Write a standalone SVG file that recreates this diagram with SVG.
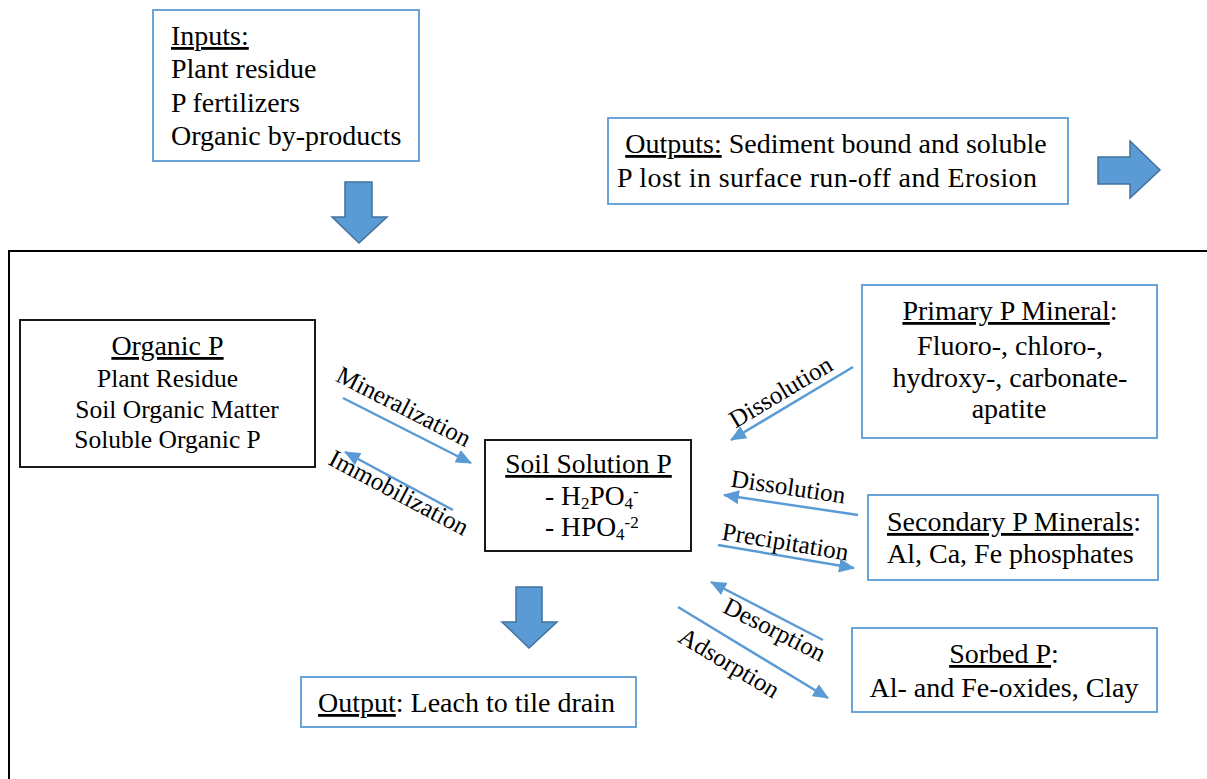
<svg xmlns="http://www.w3.org/2000/svg" width="1207" height="779" viewBox="0 0 1207 779">
<style>
text{font-family:"Liberation Serif","Times New Roman",serif;fill:#000}
.t28{font-size:28px}
.t27{font-size:27.5px}
.t25{font-size:25.5px}
.lab{font-size:25px}
.bb{fill:#fff;stroke:#5B9BD5;stroke-width:1.8}
.kb{fill:#fff;stroke:#000;stroke-width:1.8}
.big{fill:#5B9BD5;stroke:#41719C;stroke-width:1.5}
.con{stroke:#5B9BD5;stroke-width:2.5;fill:none;marker-end:url(#ah)}
.u{text-decoration:underline}
.mid{text-anchor:middle}
</style>
<defs>
<marker id="ah" markerUnits="userSpaceOnUse" viewBox="0 0 16 14" refX="15" refY="7" markerWidth="16" markerHeight="14" orient="auto">
<path d="M0,0 L16,7 L0,14 Z" fill="#5B9BD5"/>
</marker>
</defs>
<rect width="1207" height="779" fill="#fff"/>
<g id="frame">
<path d="M9,779 L9,251 L1207,251" fill="none" stroke="#000" stroke-width="2"/>
</g>
<g id="inputs">
<rect class="bb" x="153" y="10" width="266" height="151"/>
<text class="t28" x="171" y="45"><tspan class="u">Inputs:</tspan></text>
<text class="t28" x="171" y="78">Plant residue</text>
<text class="t28" x="171" y="112">P fertilizers</text>
<text class="t28" x="171" y="145">Organic by-products</text>
</g>
<g id="inputs-arrow">
<polygon class="big" points="345,182 372,182 372,217 387,217 359,243 332,217 345,217"/>
</g>
<g id="outputs">
<rect class="bb" x="608" y="118" width="460" height="86"/>
<text class="t28 mid" x="836" y="153"><tspan class="u">Outputs:</tspan> Sediment bound and soluble</text>
<text class="t28" x="617" y="187" textLength="420" lengthAdjust="spacing">P lost in surface run-off and Erosion</text>
</g>
<g id="outputs-arrow">
<polygon class="big" points="1098,157 1130,157 1130,141 1160,170 1130,198 1130,184 1098,184"/>
</g>
<g id="organic-p">
<rect class="kb" x="20" y="320" width="295" height="147"/>
<text class="mid" font-size="28" x="167.5" y="355"><tspan class="u">Organic P</tspan></text>
<text class="t25 mid" x="167.5" y="387">Plant Residue</text>
<text class="t25 mid" x="177" y="418">Soil Organic Matter</text>
<text class="t25 mid" x="167.5" y="448">Soluble Organic P</text>
</g>
<g id="soil-solution-p">
<rect class="kb" x="485" y="440" width="206" height="111"/>
<text class="t27 mid" x="588.5" y="473"><tspan class="u">Soil Solution P</tspan></text>
<text class="t27" x="545" y="505">- H<tspan font-size="17" dy="4">2</tspan><tspan dy="-4">PO</tspan><tspan font-size="17" dy="4">4</tspan><tspan font-size="17" dy="-12">-</tspan></text>
<text class="t27" x="545" y="536">- HPO<tspan font-size="17" dy="4">4</tspan><tspan font-size="17" dy="-12">-2</tspan></text>
</g>
<g id="primary-p-mineral">
<rect class="bb" x="862" y="285" width="295" height="153"/>
<text class="t28 mid" x="1010" y="320"><tspan class="u">Primary P Mineral</tspan>:</text>
<text class="t28 mid" x="1010" y="355">Fluoro-, chloro-,</text>
<text class="t28 mid" x="1010" y="387">hydroxy-, carbonate-</text>
<text class="t28 mid" x="1009" y="418">apatite</text>
</g>
<g id="secondary-p-minerals">
<rect class="bb" x="868" y="495" width="290" height="85"/>
<text class="t28" x="887" y="531"><tspan class="u">Secondary P Minerals</tspan>:</text>
<text class="t28" x="887" y="563">Al, Ca, Fe phosphates</text>
</g>
<g id="sorbed-p">
<rect class="bb" x="852" y="628" width="305" height="84"/>
<text class="t28 mid" x="1004" y="663"><tspan class="u">Sorbed P</tspan>:</text>
<text class="t28 mid" x="1004" y="697">Al- and Fe-oxides, Clay</text>
</g>
<g id="leach-arrow">
<polygon class="big" points="516,587 542,587 542,622 557,622 529,648 502,622 516,622"/>
</g>
<g id="output-leach">
<rect class="bb" x="301" y="677" width="335" height="50"/>
<text class="t28" x="318" y="712"><tspan class="u">Output</tspan>: Leach to tile drain</text>
</g>
<g id="connectors">
<line class="con" x1="343" y1="398" x2="471" y2="463"/>
<line class="con" x1="453" y1="510" x2="345" y2="452"/>
<line class="con" x1="853" y1="367" x2="731" y2="440"/>
<line class="con" x1="858" y1="515" x2="724" y2="495"/>
<line class="con" x1="718" y1="545" x2="854" y2="568"/>
<line class="con" x1="823" y1="640" x2="711" y2="582"/>
<line class="con" x1="678" y1="607" x2="828" y2="698"/>
</g>
<g id="labels">
<text class="lab mid" transform="translate(400,414) rotate(27)">Mineralization</text>
<text class="lab mid" transform="translate(395,500) rotate(28)">Immobilization</text>
<text class="lab mid" transform="translate(785,399) rotate(-31)">Dissolution</text>
<text class="lab mid" transform="translate(787,495) rotate(8.5)">Dissolution</text>
<text class="lab mid" transform="translate(784,550) rotate(9.5)">Precipitation</text>
<text class="lab mid" transform="translate(771,637) rotate(27)">Desorption</text>
<text class="lab mid" transform="translate(725,670) rotate(31)">Adsorption</text>
</g>
</svg>
